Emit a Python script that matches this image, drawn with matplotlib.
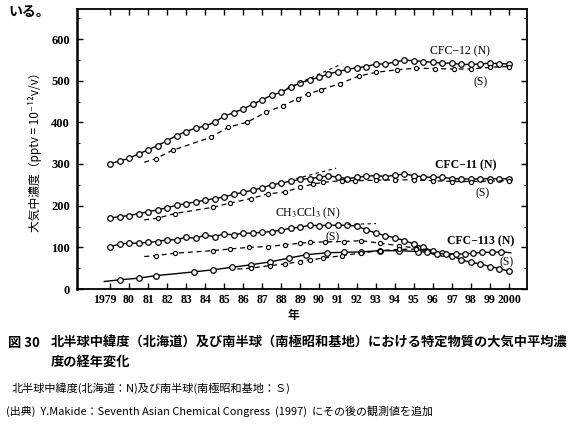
import matplotlib
matplotlib.use("Agg")
import matplotlib.pyplot as plt
from matplotlib.ticker import MultipleLocator, FixedLocator
from matplotlib.transforms import blended_transform_factory

plt.rcParams['font.family'] = ['Noto Sans CJK JP', 'DejaVu Sans']
plt.rcParams['mathtext.fontset'] = 'stix'

# ---------------- data ----------------
cfc12_n_year = [1979.0, 1979.5, 1980.0, 1980.5, 1981.0, 1981.5, 1982.0, 1982.5, 1983.0, 1983.5,
                1984.0, 1984.5, 1985.0, 1985.5, 1986.0, 1986.5, 1987.0, 1987.5, 1988.0, 1988.5,
                1989.0, 1989.5, 1990.0, 1990.5, 1991.0, 1991.5, 1992.0, 1992.5, 1993.0, 1993.5,
                1994.0, 1994.5, 1995.0, 1995.5, 1996.0, 1996.5, 1997.0, 1997.5, 1998.0, 1998.5,
                1999.0, 1999.5, 2000.0]
cfc12_n_val = [301, 307, 314, 324, 334, 344, 356, 368, 378, 386,
               391, 400, 415, 423, 432, 443, 454, 465, 472, 484,
               494, 502, 508, 516, 522, 527, 531, 534, 540, 540,
               545, 549, 548, 546, 544, 542, 542, 539, 539, 540,
               542, 541, 540]

cfc12_s_year = [1980.8, 1981.4, 1982.3, 1984.3, 1985.2, 1986.2, 1987.2, 1988.1, 1988.9, 1989.4,
                1990.1, 1991.1, 1992.1, 1993.0, 1994.1, 1995.1, 1996.1, 1997.1, 1998.0, 1999.0, 2000.0]
cfc12_s_val = [304, 313, 333, 364, 388, 400, 424, 440, 457, 468,
               478, 493, 511, 520, 526, 530, 529, 528, 528, 532, 534]

cfc11_n_year = cfc12_n_year
cfc11_n_val = [170, 174, 176, 181, 185, 190, 195, 201, 205, 209,
               213, 217, 221, 227, 232, 237, 243, 250, 254, 259,
               263, 265, 268, 272, 268, 265, 268, 271, 272, 270,
               273, 276, 272, 269, 268, 268, 265, 264, 264, 264,
               265, 264, 265]

cfc11_s_year = [1980.8, 1981.5, 1982.4, 1984.4, 1985.3, 1986.4, 1987.3, 1988.2, 1989.0, 1989.7,
                1990.2, 1991.2, 1991.9, 1993.0, 1994.0, 1995.0, 1996.0, 1997.0, 1998.0, 1999.0, 2000.0]
cfc11_s_val = [166, 170, 181, 196, 206, 217, 228, 233, 244, 252,
               256, 260, 260, 261, 262, 262, 260, 258, 258, 259, 260]

ch3ccl3_n_year = cfc12_n_year
ch3ccl3_n_val = [101, 108, 110, 110, 112, 114, 118, 118, 124, 122,
                 129, 126, 132, 130, 134, 134, 136, 138, 141, 146,
                 148, 153, 152, 153, 153, 153, 151, 142, 134, 128,
                 123, 116, 108, 100, 91, 86, 80, 70, 64, 60,
                 54, 49, 43]

ch3ccl3_s_year = [1980.8, 1981.4, 1982.4, 1984.4, 1985.3, 1986.3, 1987.3, 1988.2, 1989.0, 1989.5,
                  1990.3, 1991.3, 1992.2, 1993.2, 1994.2, 1995.1, 1995.6]
ch3ccl3_s_val = [78, 80, 86, 92, 96, 100, 102, 106, 110, 112,
                 113, 114, 116, 110, 104, 98, 95]

cfc113_n_year = [1978.7, 1979.5, 1980.5, 1981.4, 1983.4, 1984.4, 1985.4, 1986.4, 1987.4, 1988.4,
                 1989.3, 1990.4, 1991.3, 1992.2, 1993.2, 1994.2, 1995.2, 1995.7, 1996.2, 1996.7,
                 1997.2, 1997.7, 1998.1, 1998.6, 1999.1, 1999.6, 2000.1]
cfc113_n_val = [18, 22, 26, 32, 41, 46, 52, 58, 65, 74,
                82, 87, 88, 89, 92, 92, 90, 88, 85, 84,
                84, 84, 86, 88, 88, 89, 87]

cfc113_s_year = [1985.7, 1986.4, 1987.4, 1988.2, 1989.0, 1989.5, 1990.2, 1991.2, 1992.2, 1993.2,
                 1994.2, 1995.1, 1995.6]
cfc113_s_val = [48, 50, 56, 60, 66, 70, 74, 80, 86, 92, 95, 96, 93]

# short extrapolated trend segments
trend_cfc12_year = [1988.3, 1991.2]
trend_cfc12_val = [481, 540]
trend_cfc11_year = [1988.8, 1990.9]
trend_cfc11_val = [265, 290]
trend_ch3_year = [1991.5, 1993.0]
trend_ch3_val = [155, 157]

xtick_years = list(range(1979, 2001))
xtick_labels = ['1979'] + [str(y % 100) for y in range(1980, 2000)] + ['2000']

# ---------------- figure ----------------
W, H = 577, 443
fig = plt.figure(figsize=(W / 100, H / 100), dpi=100)
ax = fig.add_axes([77 / W, 1 - 289 / H, (527 - 77) / W, (289 - 9) / H])

k = 'black'
mk_n = dict(color=k, lw=1.0, marker='o', ms=4.0, mfc='white', mec=k, mew=0.9)
mk_s = dict(color=k, lw=0.9, ls=(0, (4, 3)), marker='o', ms=3.0, mfc='white', mec=k, mew=0.8)

ax.plot(cfc12_n_year, cfc12_n_val, **mk_n)
ax.plot(cfc12_s_year, cfc12_s_val, markevery=slice(1, None), **mk_s)
ax.plot(cfc11_n_year, cfc11_n_val, **mk_n)
ax.plot(cfc11_s_year, cfc11_s_val, markevery=slice(1, None), **mk_s)
ax.plot(ch3ccl3_n_year, ch3ccl3_n_val, **mk_n)
ax.plot(ch3ccl3_s_year, ch3ccl3_s_val, markevery=slice(1, -1), **mk_s)
ax.plot(cfc113_n_year, cfc113_n_val, markevery=slice(1, -1), **mk_n)
ax.plot(cfc113_s_year, cfc113_s_val, markevery=slice(1, -1), **mk_s)

tr = dict(color=k, lw=0.8, ls=(0, (3, 3)))
ax.plot(trend_cfc12_year, trend_cfc12_val, **tr)
ax.plot(trend_cfc11_year, trend_cfc11_val, **tr)
ax.plot(trend_ch3_year, trend_ch3_val, **tr)

ax.set_xlim(1977.26, 2000.95)
ax.set_ylim(0, 672)

ax.xaxis.set_major_locator(FixedLocator(xtick_years))
ax.set_xticklabels([])
ax.yaxis.set_major_locator(MultipleLocator(100))
ax.yaxis.set_minor_locator(MultipleLocator(50))
ax.tick_params(axis='both', which='major', direction='in', top=True, right=True,
               length=4, width=1.0, pad=5)
ax.tick_params(axis='y', which='minor', direction='in', right=True, length=2.5, width=0.8)
for lab in ax.get_yticklabels():
    lab.set_fontfamily('Liberation Serif'); lab.set_fontweight('bold'); lab.set_fontsize(9)
for s in ['top', 'right', 'bottom']:
    ax.spines[s].set_linewidth(1.3)
ax.spines['left'].set_linewidth(1.8)

# x tick labels (first one sits slightly left of its tick, as in the original)
bt = blended_transform_factory(ax.transData, ax.transAxes)
for yr, txt in zip(xtick_years, xtick_labels):
    shift = -0.3 if txt == '1979' else 0.0
    ax.text(yr + shift, -11 / 280, txt, transform=bt, ha='center', va='center',
            fontfamily='Liberation Serif', fontweight='bold', fontsize=8.5, clip_on=False)

lbl = dict(fontfamily='Liberation Serif', fontsize=8.5, ha='center', va='center', color=k)
ax.text(1997.4, 571, 'CFC−12 (N)', **lbl)
ax.text(1998.5, 497, '(S)', **lbl)
ax.text(1997.7, 298, 'CFC−11 (N)', fontweight='bold', **lbl)
ax.text(1998.6, 230, '(S)', **lbl)
ax.text(1989.4, 182, r'CH$_3$CCl$_3$ (N)', **lbl)
ax.text(1990.7, 125, '(S)', **lbl)
ax.text(1998.5, 115, 'CFC−113 (N)', fontweight='bold', **lbl)
ax.text(1999.9, 65, '(S)', **lbl)

def fx(px):
    return px / W

def fy(py):
    return 1 - py / H

fig.text(fx(8), fy(12), 'いる。', fontsize=10, fontweight='bold', ha='left', va='center')
fig.text(fx(35), fy(149), '大気中濃度（pptv = 10⁻¹²v/v）', rotation=90,
         fontsize=8.5, ha='center', va='center')
fig.text(fx(293), fy(316), '年', fontsize=8.5, fontweight='bold', ha='center', va='center')
fig.text(fx(8), fy(343), '図 30', fontsize=9.5, fontweight='bold', ha='left', va='center')
fig.text(fx(51), fy(343), '北半球中緯度（北海道）及び南半球（南極昭和基地）における特定物質の大気中平均濃',
         fontsize=9.5, fontweight='bold', ha='left', va='center')
fig.text(fx(51), fy(362), '度の経年変化', fontsize=9.5, fontweight='bold', ha='left', va='center')
fig.text(fx(12), fy(388), '北半球中緯度(北海道：N)及び南半球(南極昭和基地：Ｓ)',
         fontsize=8.0, ha='left', va='center')
fig.text(fx(6), fy(411), '(出典)  Y.Makide：Seventh Asian Chemical Congress  (1997)  にその後の観測値を追加',
         fontsize=7.9, ha='left', va='center')

fig.savefig('out.png', dpi=100)
